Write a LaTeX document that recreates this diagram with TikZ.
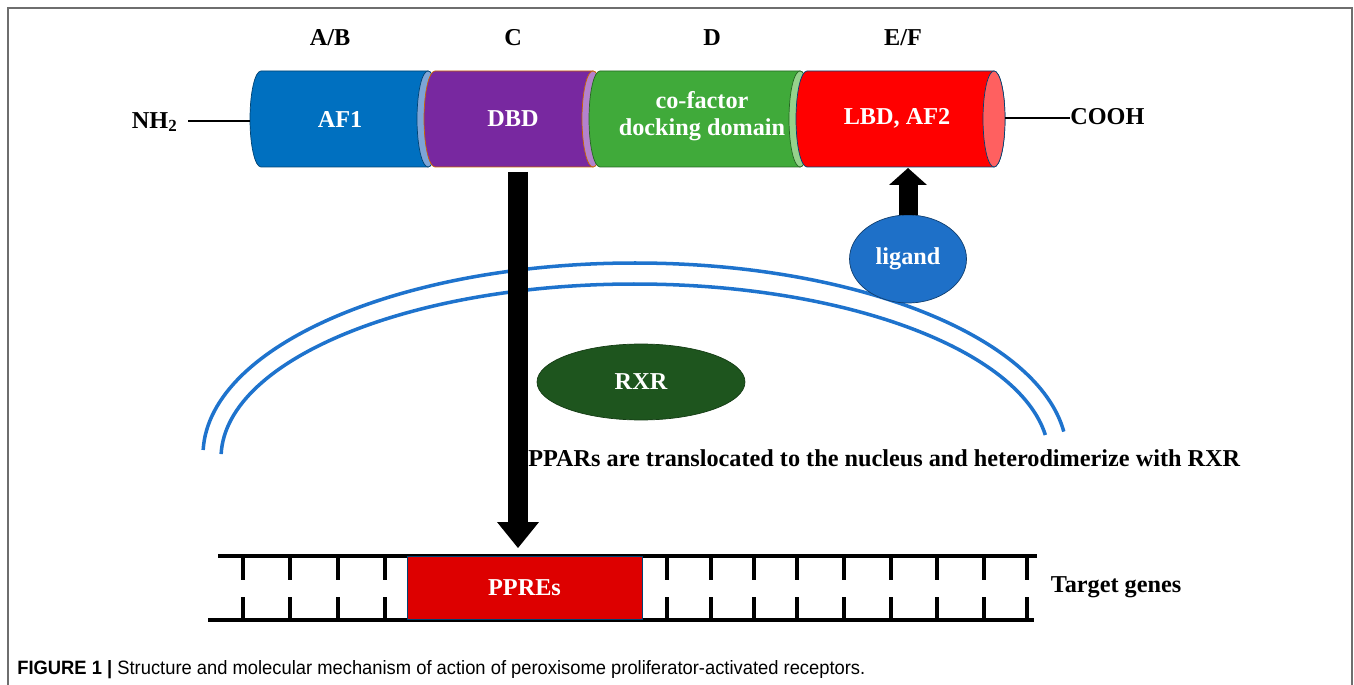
\documentclass[tikz,border=0pt]{standalone}
\usepackage{fontspec}
\setmainfont{Liberation Serif}
\newfontfamily\capfont[FakeStretch=0.95]{Liberation Sans}
\usetikzlibrary{arrows.meta,shapes.geometric}

\definecolor{afblue}{RGB}{0,112,192}
\definecolor{afface}{RGB}{125,165,215}
\definecolor{dbdpurple}{RGB}{120,40,160}
\definecolor{dbdface}{RGB}{180,130,205}
\definecolor{cofgreen}{RGB}{64,170,58}
\definecolor{cofface}{RGB}{150,210,140}
\definecolor{lbdred}{RGB}{255,0,0}
\definecolor{lbdface}{RGB}{255,96,96}
\definecolor{ppred}{RGB}{221,0,0}
\definecolor{ligblue}{RGB}{30,112,200}
\definecolor{rxrgreen}{RGB}{30,85,30}
\definecolor{nucblue}{RGB}{30,115,205}
\definecolor{frame}{RGB}{110,110,110}

\tikzset{
  lbl/.style={font=\fontsize{13.8}{15.5}\selectfont\bfseries, text=black, inner sep=0pt},
  seglbl/.style={lbl, text=white, align=center},
  blockarrow/.style={line width=0.4cm, -{Triangle[length=0.52cm,width=0.8cm]}},
  smallarrow/.style={line width=0.38cm, -{Triangle[length=0.34cm,width=0.74cm]}},
  membrane/.style={draw=nucblue, line width=2pt},
  rung/.style={line width=2.2pt},
}

\begin{document}
\begin{tikzpicture}[x=0.02cm, y=-0.02cm]
 \useasboundingbox (0,0) rectangle (1354,685);
 \draw[frame, line width=0.85pt] (8,685) -- (8,8) -- (1352,8) -- (1352,685);

 \draw[draw=afblue!60!black, line width=0.4pt, fill=afblue] (261,71) arc[start angle=270, end angle=90, x radius=11, y radius=48] -- (428,167) arc[start angle=90, end angle=-90, x radius=11, y radius=48] -- cycle;
 \draw[draw=afblue!60!black, line width=0.4pt, fill=afface] (428,119) ellipse[x radius=11, y radius=48];
 \draw[draw=orange!80!black, line width=0.4pt, fill=dbdpurple] (435,71) arc[start angle=270, end angle=90, x radius=11, y radius=48] -- (593,167) arc[start angle=90, end angle=-90, x radius=11, y radius=48] -- cycle;
 \draw[draw=orange!80!black, line width=0.4pt, fill=dbdface] (593,119) ellipse[x radius=11, y radius=48];
 \draw[draw=cofgreen!60!black, line width=0.4pt, fill=cofgreen] (600,71) arc[start angle=270, end angle=90, x radius=11, y radius=48] -- (800,167) arc[start angle=90, end angle=-90, x radius=11, y radius=48] -- cycle;
 \draw[draw=cofgreen!60!black, line width=0.4pt, fill=cofface] (800,119) ellipse[x radius=11, y radius=48];
 \draw[draw=afblue!60!black, line width=0.4pt, fill=lbdred] (807,71) arc[start angle=270, end angle=90, x radius=11, y radius=48] -- (994,167) arc[start angle=90, end angle=-90, x radius=11, y radius=48] -- cycle;
 \draw[draw=afblue!60!black, line width=0.4pt, fill=lbdface] (994,119) ellipse[x radius=11, y radius=48];

 \node[lbl] (ab) at (330,38) {A/B};
 \node[lbl] (c) at (513,38) {C};
 \node[lbl] (d) at (712,38) {D};
 \node[lbl] (ef) at (903,38) {E/F};

 \node[seglbl] (af1) at (340,120) {AF1};
 \node[seglbl] (dbd) at (513,119) {DBD};
 \node[seglbl] (cof) at (702,116) {co-factor\\docking domain};
 \node[seglbl] (lbd) at (897,118) {LBD, AF2};

 \node[lbl, anchor=east] (nh) at (178,122) {NH\textsubscript{2}};
 \coordinate (nterm) at (250,121);
 \draw[line width=0.8pt, shorten <=0.2cm] (nh.east |- nterm) -- (nterm);
 \coordinate (cterm) at (1005,118);
 \node[lbl, anchor=west] (cooh) at (1070,117) {COOH};
 \draw[line width=0.8pt] (cterm) -- (cooh.west |- cterm);

 \draw[membrane] (635,455) ++(181.5:432 and 192) arc[start angle=181.5, end angle=353, x radius=432, y radius=192];
 \draw[membrane] (635,458) ++(181.3:414 and 174) arc[start angle=181.3, end angle=352.4, x radius=414, y radius=174];

 \node[draw=ligblue!55!black, fill=ligblue, ellipse, minimum width=2.34cm, minimum height=1.76cm, seglbl] (ligand) at (908,259) {ligand};
 \node[draw=rxrgreen!70!black, fill=rxrgreen, ellipse, minimum width=4.16cm, minimum height=1.52cm, seglbl] (rxr) at (641,382) {RXR};
 \coordinate (lbdfoot) at (908,168);
 \draw[smallarrow] (ligand.north) -- (lbdfoot);

 \node[lbl, anchor=west] (trans) at (528,458) {PPARs are translocated to the nucleus and heterodimerize with RXR};

 \draw[rung] (218,556) -- (1037,556);
 \draw[rung] (208,620) -- (1034,620);
 \draw[rung] (243,556) -- (243,580) (243,597) -- (243,620);
 \draw[rung] (290,556) -- (290,580) (290,597) -- (290,620);
 \draw[rung] (338,556) -- (338,580) (338,597) -- (338,620);
 \draw[rung] (385,556) -- (385,580) (385,597) -- (385,620);
 \draw[rung] (667,556) -- (667,580) (667,597) -- (667,620);
 \draw[rung] (711,556) -- (711,580) (711,597) -- (711,620);
 \draw[rung] (754,556) -- (754,580) (754,597) -- (754,620);
 \draw[rung] (797,556) -- (797,580) (797,597) -- (797,620);
 \draw[rung] (844,556) -- (844,580) (844,597) -- (844,620);
 \draw[rung] (891,556) -- (891,580) (891,597) -- (891,620);
 \draw[rung] (937,556) -- (937,580) (937,597) -- (937,620);
 \draw[rung] (984,556) -- (984,580) (984,597) -- (984,620);
 \draw[rung] (1027,556) -- (1027,580) (1027,597) -- (1027,620);
 \node[draw=afblue!60!black, line width=0.4pt, fill=ppred, minimum width=4.7cm, minimum height=1.26cm, seglbl] (ppre) at (524.5,588) {PPREs};
 \node[lbl] (target) at (1116,587) {Target genes};

 \coordinate (dbdfoot) at (518,172);
 \draw[blockarrow, shorten >=0.16cm] (dbdfoot) -- (dbdfoot |- ppre.north);

 \node[anchor=base west, inner sep=0pt, font=\capfont\fontsize{11}{13}\selectfont] (caption) at (17,674) {\textbf{FIGURE 1 |} Structure and molecular mechanism of action of peroxisome proliferator-activated receptors.};
\end{tikzpicture}
\end{document}
